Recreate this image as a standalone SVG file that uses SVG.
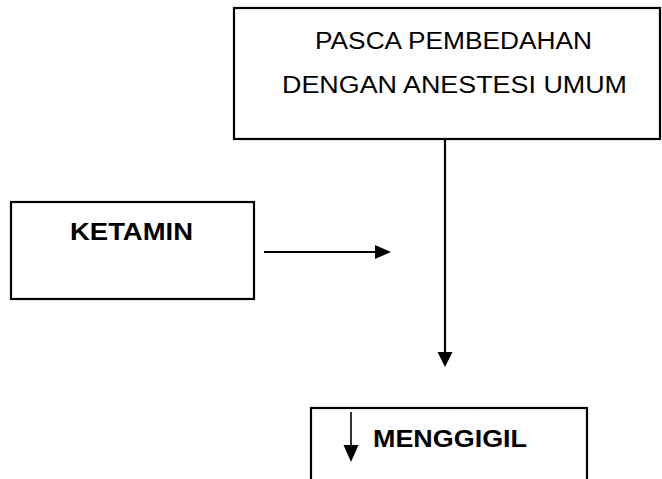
<svg xmlns="http://www.w3.org/2000/svg" width="662" height="479" viewBox="0 0 662 479">
<style>
.box{fill:#fff;stroke:#000;stroke-width:2.2}
.reg{font-family:"Liberation Sans",Arial,sans-serif;font-size:23.5px;fill:#000}
.bold{font-family:"Liberation Sans",Arial,sans-serif;font-size:24px;font-weight:bold;fill:#000}
.ln{stroke:#000;stroke-width:2.2;fill:none}
</style>
<g id="node-pasca">
<rect class="box" x="234" y="8" width="426" height="131"/>
<text class="reg" x="453.5" y="49" text-anchor="middle" textLength="277" lengthAdjust="spacingAndGlyphs">PASCA PEMBEDAHAN</text>
<text class="reg" x="454.5" y="93" text-anchor="middle" textLength="345" lengthAdjust="spacingAndGlyphs">DENGAN ANESTESI UMUM</text>
</g>
<g id="node-ketamin">
<rect class="box" x="11" y="202" width="243" height="97"/>
<text class="bold" x="131.5" y="240" text-anchor="middle" textLength="123" lengthAdjust="spacingAndGlyphs">KETAMIN</text>
</g>
<g id="node-menggigil">
<rect class="box" x="311" y="408" width="276" height="80"/>
<line x1="351" y1="412" x2="351" y2="447" stroke="#000" stroke-width="1.6"/>
<polygon points="343.5,445 358.5,445 351,462" fill="#000"/>
<text class="bold" x="373" y="447" textLength="154" lengthAdjust="spacingAndGlyphs">MENGGIGIL</text>
</g>
<g id="connectors">
<line class="ln" x1="445" y1="139" x2="445" y2="354"/>
<polygon points="437.5,352 452.5,352 445,367" fill="#000"/>
<line class="ln" x1="264" y1="252" x2="378" y2="252"/>
<polygon points="375,245 375,259 391,252" fill="#000"/>
</g>
</svg>
